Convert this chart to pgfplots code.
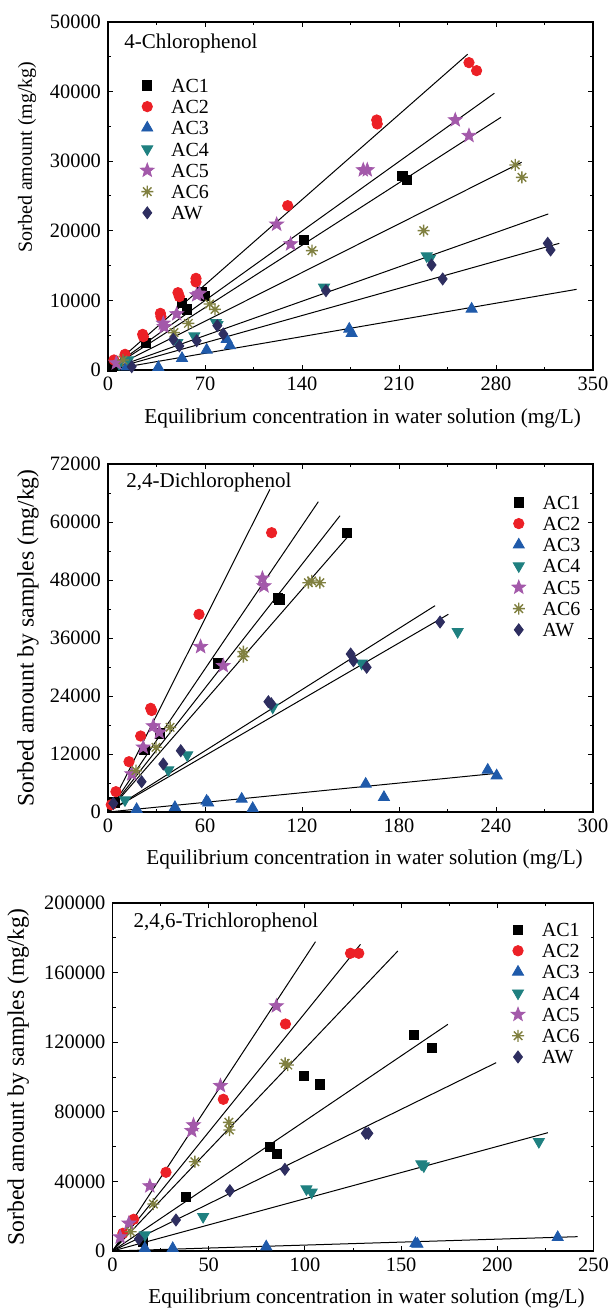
\documentclass[border=0pt]{standalone}
\usepackage{fontspec}
\setmainfont{Liberation Serif}
\usepackage{pgfplots}
\pgfplotsset{compat=1.18}
\usetikzlibrary{plotmarks}

\definecolor{cAC2}{RGB}{236,32,38}
\definecolor{cAC3}{RGB}{31,90,170}
\definecolor{cAC4}{RGB}{31,128,128}
\definecolor{cAC5}{RGB}{163,89,170}
\definecolor{cAC6}{RGB}{128,128,64}
\definecolor{cAW}{RGB}{46,46,96}

% eight-armed asterisk for AC6
\pgfdeclareplotmark{ast8}{%
  \pgfpathmoveto{\pgfqpoint{0pt}{\pgfplotmarksize}}%
  \pgfpathlineto{\pgfqpoint{0pt}{-\pgfplotmarksize}}%
  \pgfpathmoveto{\pgfqpoint{\pgfplotmarksize}{0pt}}%
  \pgfpathlineto{\pgfqpoint{-\pgfplotmarksize}{0pt}}%
  \pgfpathmoveto{\pgfqpoint{0.707\pgfplotmarksize}{0.707\pgfplotmarksize}}%
  \pgfpathlineto{\pgfqpoint{-0.707\pgfplotmarksize}{-0.707\pgfplotmarksize}}%
  \pgfpathmoveto{\pgfqpoint{0.707\pgfplotmarksize}{-0.707\pgfplotmarksize}}%
  \pgfpathlineto{\pgfqpoint{-0.707\pgfplotmarksize}{0.707\pgfplotmarksize}}%
  \pgfusepathqstroke}
% filled five-pointed star for AC5
\pgfdeclareplotmark{fstar}{%
  \pgfpathmoveto{\pgfpointpolar{90}{\pgfplotmarksize}}%
  \pgfpathlineto{\pgfpointpolar{126}{0.42\pgfplotmarksize}}%
  \pgfpathlineto{\pgfpointpolar{162}{\pgfplotmarksize}}%
  \pgfpathlineto{\pgfpointpolar{198}{0.42\pgfplotmarksize}}%
  \pgfpathlineto{\pgfpointpolar{234}{\pgfplotmarksize}}%
  \pgfpathlineto{\pgfpointpolar{270}{0.42\pgfplotmarksize}}%
  \pgfpathlineto{\pgfpointpolar{306}{\pgfplotmarksize}}%
  \pgfpathlineto{\pgfpointpolar{342}{0.42\pgfplotmarksize}}%
  \pgfpathlineto{\pgfpointpolar{18}{\pgfplotmarksize}}%
  \pgfpathlineto{\pgfpointpolar{54}{0.42\pgfplotmarksize}}%
  \pgfpathclose
  \pgfusepathqfillstroke}

\pgfplotsset{
  chart/.style={
    scale only axis, width=242.5pt, height=174pt,
    anchor=south west,
    axis line style={line width=0.6pt},
    tick style={line width=0.5pt, black},
    tick align=inside,
    minor x tick num=1, minor y tick num=1,
    major tick length=2.5pt, minor tick length=1.5pt,
    scaled ticks=false,
    /pgf/number format/fixed,
    /pgf/number format/precision=0,
    /pgf/number format/1000 sep={},
    /pgf/number format/assume math mode=true,
    tick label style={font=\fontsize{10.2}{12}\selectfont},
    xlabel style={font=\fontsize{10.6}{12}\selectfont, anchor=center},
    ylabel style={anchor=center},
    legend cell align=left,
    legend style={draw=none, fill=none, inner sep=0pt, row sep=3.6pt,
      anchor=north west,
      nodes={inner sep=0pt, text height=7pt, text depth=0pt, font=\fontsize{10}{12}\selectfont},
      /tikz/every odd column/.append style={column sep=8.5pt}},
  },
  ac1/.style={only marks, mark=square*, mark size=2.3pt, black},
  ac2/.style={only marks, mark=*, mark size=2.6pt, cAC2},
  ac3/.style={only marks, mark=triangle*, mark size=3.2pt, cAC3},
  ac4/.style={only marks, mark=triangle*, mark size=3.2pt, cAC4, mark options={rotate=180}},
  ac5/.style={only marks, mark=fstar, mark size=3.6pt, cAC5},
  ac6/.style={only marks, mark=ast8, mark size=3pt, cAC6, mark options={line width=0.7pt}},
  aw/.style={only marks, mark=diamond*, mark size=3pt, cAW},
  fit/.style={black, line width=0.5pt, no marks, forget plot},
}

\begin{document}
\begin{tikzpicture}
\useasboundingbox (0,0) rectangle (305pt,-654.5pt);

% ---------- 4-Chlorophenol ----------
\begin{axis}[chart, at={(54pt,-185pt)},
  xmin=0, xmax=350, ymin=0, ymax=50000,
  xtick={0,70,...,350}, ytick={0,10000,...,50000},
  xlabel={Equilibrium concentration in water solution (mg/L)},
  ylabel={Sorbed amount (mg/kg)},
  xlabel style={at={(axis description cs:0.525,-0.138)}},
  ylabel style={at={(axis description cs:-0.167,0.612)}, font=\fontsize{10}{12}\selectfont},
  legend style={at={(0.066,0.839)}}]
\addplot[ac1] coordinates {(3,400) (27.4,3920) (53.6,9670) (57.2,8720) (67.8,11170) (70,10680) (141.4,18680) (212.4,27920) (215.5,27300)};
\addplot[ac2] coordinates {(4.3,1440) (12.3,2250) (25,5120) (25.5,4790) (37.8,8140) (38.2,7670) (50.5,11110) (51.5,10540) (63.5,13170) (63.5,12650) (129.7,23610) (193.9,35920) (194.3,35350) (260.5,44160) (266,43010)};
\addplot[ac3] coordinates {(13.5,480) (36.3,380) (53.4,1680) (71.2,2870) (85.6,4400) (88,3500) (174.1,5890) (175.8,5270) (262.4,8770)};
\addplot[ac4] coordinates {(8,900) (14.7,1440) (50,3930) (62.3,4890) (77.9,6800) (79,6500) (155.9,11880) (230,16380) (232.4,16040)};
\addplot[ac5] coordinates {(6,1000) (39.9,6700) (40.5,6200) (49.6,8050) (64,10780) (66,11000) (121.7,20930) (131.8,18100) (184.2,28740) (187.1,28740) (250.6,35920) (260.5,33670)};
\addplot[ac6] coordinates {(10.8,1440) (47.6,5370) (58,6700) (73.4,9480) (77.2,8720) (147.2,17150) (227.8,20020) (293.9,29460) (298.7,27680)};
\addplot[aw] coordinates {(17.1,480) (47.1,4410) (51.5,3450) (64,4210) (78.9,6370) (83.2,5170) (157.3,11400) (233.5,15090) (241.5,13080) (317.3,18200) (319.4,17240)};
\legend{AC1,AC2,AC3,AC4,AC5,AC6,AW}
\addplot[fit] coordinates {(0,0) (259.5,45360)};
\addplot[fit] coordinates {(0,0) (278.8,39760)};
\addplot[fit] coordinates {(0,0) (283.6,36310)};
\addplot[fit] coordinates {(0,0) (298.5,29850)};
\addplot[fit] coordinates {(0,0) (317.7,22420)};
\addplot[fit] coordinates {(0,0) (325.7,18200)};
\addplot[fit] coordinates {(0,0) (338.2,11590)};
\node[anchor=west, inner sep=0pt, font=\fontsize{10.5}{12}\selectfont] at (rel axis cs:0.033,0.937) {4-Chlorophenol};
\end{axis}

% ---------- 2,4-Dichlorophenol ----------
\begin{axis}[chart, at={(54pt,-406pt)},
  xmin=0, xmax=300, ymin=0, ymax=72000,
  xtick={0,60,...,300}, ytick={0,12000,...,72000},
  xlabel={Equilibrium concentration in water solution (mg/L)},
  ylabel={Sorbed amount by samples (mg/kg)},
  xlabel style={at={(axis description cs:0.529,-0.135)}},
  ylabel style={at={(axis description cs:-0.165,0.5)}, font=\fontsize{11.8}{13}\selectfont},
  legend style={at={(0.832,0.911)}}]
\addplot[ac1] coordinates {(4,2000) (22.5,12830) (32.2,16280) (67.9,30760) (105,44300) (106,44000) (148,57790)};
\addplot[ac2] coordinates {(2,1500) (4.9,4210) (13,10410) (20.2,15720) (26.4,21450) (27,21000) (56.3,40900) (101.2,57790)};
\addplot[ac3] coordinates {(17.7,560) (41.4,970) (61,2280) (62,1900) (82.7,2690) (89.5,760) (159.4,5790) (170.7,3040) (234.9,8690) (240.4,7520)};
\addplot[ac4] coordinates {(10.5,2480) (37.3,8690) (49,11790) (101.9,21660) (156.9,30760) (216.3,37310)};
\addplot[ac5] coordinates {(14.7,7860) (21.8,13390) (28,17790) (31.7,16490) (57.3,34200) (71.3,30270) (95.5,48350) (96.5,46760)};
\addplot[ac6] coordinates {(17.3,8550) (29.7,13390) (38.4,17520) (83.7,33170) (83.7,32140) (123.9,47440) (126,47800) (131.1,47440)};
\addplot[aw] coordinates {(3.3,1800) (20.8,6270) (34.2,9930) (45,12680) (99.2,22820) (101,22400) (150.1,32690) (151.8,31300) (160,29940) (205.4,39310)};
\legend{AC1,AC2,AC3,AC4,AC5,AC6,AW}
\addplot[fit] coordinates {(0,0) (100.2,66770)};
\addplot[fit] coordinates {(0,0) (130.1,64200)};
\addplot[fit] coordinates {(0,0) (143.5,61300)};
\addplot[fit] coordinates {(0,0) (148,56830)};
\addplot[fit] coordinates {(0,0) (202.3,42690)};
\addplot[fit] coordinates {(0,0) (210.5,40900)};
\addplot[fit] coordinates {(0,0) (240.4,8000)};
\node[anchor=west, inner sep=0pt, font=\fontsize{10.5}{12}\selectfont] at (rel axis cs:0.037,0.948) {2,4-Dichlorophenol};
\end{axis}

% ---------- 2,4,6-Trichlorophenol ----------
\begin{axis}[chart, at={(56.25pt,-625.5pt)}, width=240.5pt,
  xmin=0, xmax=250, ymin=0, ymax=200000,
  xtick={0,50,...,250}, ytick={0,40000,...,200000},
  xlabel={Equilibrium concentration in water solution (mg/L)},
  ylabel={Sorbed amount by samples (mg/kg)},
  xlabel style={at={(axis description cs:0.528,-0.135)}},
  ylabel style={at={(axis description cs:-0.196,0.5)}, font=\fontsize{11.8}{13}\selectfont},
  legend style={at={(0.828,0.945)}}]
\addplot[ac1] coordinates {(15.7,5350) (38.3,31210) (81.9,59940) (85.4,55750) (99.5,100750) (107.8,95800) (156.7,124140) (166.2,116840)};
\addplot[ac2] coordinates {(5.4,10170) (11,18220) (27.8,45230) (57.6,87190) (89.9,130460) (123.7,171100) (128,171100)};
\addplot[ac3] coordinates {(16.8,1530) (31.3,1530) (79.9,2490) (157.5,4430) (158.5,4000) (231.4,7870)};
\addplot[ac4] coordinates {(16.8,9200) (47.1,19730) (100.8,35630) (103.5,33720) (160.5,50000) (161.8,48850) (221.6,62820)};
\addplot[ac5] coordinates {(4,8000) (8.5,15920) (19.4,37360) (41.2,69140) (42.1,72410) (56.1,95000) (85.2,140800)};
\addplot[ac6] coordinates {(9.4,11100) (21.2,27010) (42.8,51320) (60.5,73960) (60.8,69540) (89.7,107870) (91.1,106890)};
\addplot[aw] coordinates {(13.7,6900) (33,17820) (61,34660) (89.6,46950) (131.6,67640) (133,67640)};
\legend{AC1,AC2,AC3,AC4,AC5,AC6,AW}
\addplot[fit] coordinates {(0,0) (105.5,177760)};
\addplot[fit] coordinates {(0,0) (128.9,176260)};
\addplot[fit] coordinates {(0,0) (148.3,172410)};
\addplot[fit] coordinates {(0,0) (174.3,130270)};
\addplot[fit] coordinates {(0,0) (199.4,108230)};
\addplot[fit] coordinates {(0,0) (226.3,68000)};
\addplot[fit] coordinates {(0,0) (241.8,8240)};
\node[anchor=west, inner sep=0pt, font=\fontsize{10.5}{12}\selectfont] at (rel axis cs:0.043,0.945) {2,4,6-Trichlorophenol};
\end{axis}
\end{tikzpicture}
\end{document}
